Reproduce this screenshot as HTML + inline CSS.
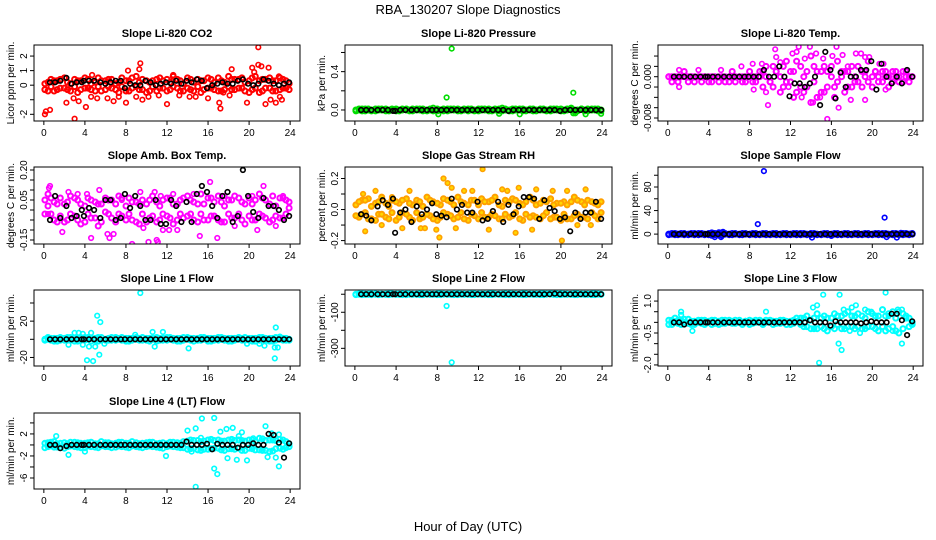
<!DOCTYPE html>
<html><head><meta charset="utf-8"><style>
html,body{margin:0;padding:0;background:#fff;}
svg{display:block;font-family:"Liberation Sans",Arial,sans-serif;}
</style></head><body>
<svg id="fig" width="936" height="540" viewBox="0 0 936 540" xmlns="http://www.w3.org/2000/svg">
<rect width="936" height="540" fill="#fff"/>
<text x="468" y="14" font-size="13" text-anchor="middle">RBA_130207  Slope Diagnostics</text>
<text x="468" y="531" font-size="13" text-anchor="middle">Hour of Day (UTC)</text>
</svg>
<script>
const xTicks=[0,4,8,12,16,20,24];
const xTickLabels=["0","4","8","12","16","20","24"];
const bandHours=[0.1,0.4,0.7,1,1.3,1.6,2,2.3,2.6,3,3.3,3.6,4,4.3,4.6,5,5.3,5.6,6,6.3,6.6,7,7.3,7.6,8,8.3,8.6,9,9.3,9.6,10,10.3,10.6,11,11.3,11.6,12,12.3,12.6,13,13.3,13.6,14,14.3,14.6,15,15.3,15.6,16,16.3,16.6,17,17.3,17.6,18,18.3,18.6,19,19.3,19.6,20,20.3,20.6,21,21.3,21.6,22,22.3,22.6,23,23.3,23.6,23.9];
const blackHours=[0.6,1.1,1.6,2.2,2.7,3.2,3.7,3.9,4.4,4.9,5.5,6,6.5,7,7.5,7.9,8.4,8.9,9.4,9.9,10.4,10.9,11.4,11.9,12.4,12.9,13.4,13.9,14.4,14.9,15.4,15.9,16.4,16.9,17.4,17.9,18.4,18.9,19.4,19.9,20.4,20.9,21.4,21.9,22.4,22.9,23.4,23.9];

// Panel 1: CO2
const co2BandA=[-.3,.2,.4,-.4,.3,-.2,.5,-.3,.1,.4,-.5,.3,-.2,.4,-.3,.2,.5,-.4,.3,-.1,.4,-.3,.2,.5,-.4,.3,-.2,.6,-.3,.4,-.5,.2,.3,-.4,.5,-.2,.4,-.3,.6,-.2,.3,-.4,.5,-.3,.2,.4,-.5,.3,-.2,.4,-.3,.5,-.4,.2,.6,-.3,.4,-.2,.5,-.4,.3,-.3,.6,-.5,.4,-.2,.5,-.4,.3,-.3,.4,-.2,.1];
const co2BandB=[.1,-.4,-.1,.3,-.3,.4,-.2,.2,-.4,-.1,.3,-.3,.5,-.2,.1,-.4,-.1,.3,-.3,.4,-.2,.1,-.5,-.1,.3,-.4,.5,-.1,.2,-.3,.3,-.4,-.1,.4,-.2,.3,-.4,.2,-.1,.4,-.4,.1,-.2,.4,-.4,-.1,.3,-.3,.5,-.2,.2,-.4,.3,-.3,-.1,.4,-.3,.4,-.2,.2,-.5,.5,-.2,.3,-.4,.4,-.2,.3,-.4,.5,-.2,.3,-.3];
const co2Outliers=[[0.1,-2],[0.2,-1.8],[0.6,-1.7],[2.2,-1.2],[2.9,-0.9],[3.0,-2.3],[3.4,-1.1],[4.1,-1.5],[4.7,0.7],[4.6,-0.8],[5.2,-0.9],[6.2,-0.9],[6.8,-1.1],[7.3,-0.8],[8.2,1],[8,-1.2],[9.3,1.1],[9.4,1.5],[9,-0.8],[9.6,-1],[10.2,-0.8],[11.2,-0.7],[12,-1.3],[12.6,0.7],[13.2,-0.7],[14.2,-0.8],[14.8,-0.8],[16,-0.9],[17.2,-1.6],[17.1,-1.2],[17.5,-0.5],[18.3,1.1],[18.1,-0.7],[19.8,-1.2],[20.3,1.2],[20.5,0.9],[20.9,2.6],[20.9,1.4],[21.2,1.3],[21.6,-1.3],[21.9,1.2],[22.1,-1],[22.6,-1.2],[22.9,0.6],[23,-0.8],[23.2,-1]];
const co2Black=[.2,.2,.3,.5,.1,.2,.2,.3,.3,.3,.2,.1,.2,.3,.3,-.2,.1,0,0,.3,.2,0,.1,.2,.1,.3,.1,.3,.2,.4,.3,-.2,0,.1,.2,.1,.1,.3,.4,.1,0,.1,.4,.3,.1,0,.1,.2];

// Panel 2: Pressure
const presBandA=[0,.01,-.01,.01,0,-.01,.01,0,.01,-.01,0,.01,-.01,0,.01,0,-.01,.01,0,.01,-.01,0,.01,.02,-.01,0,.01,-.01,.01,0,.01,-.01,0,.01,0,-.01,.01,0,.01,-.01,0,.01,-.01,.02,0,-.01,.01,0,.01,-.01,0,.01,-.01,0,.01,0,-.01,.01,0,.01,-.01,0,.01,.02,-.01,0,.01,-.01,.01,0,.01,-.01,0];
const presBandB=[-.01,0,.01,-.01,.01,0,-.01,.01,0,.01,-.01,0,.01,-.01,0,.01,0,-.01,.01,0,.01,-.01,0,-.01,.01,0,-.01,.01,0,.01,-.01,0,.01,-.01,.01,0,-.01,.01,0,.01,-.01,0,.01,-.01,.01,0,-.01,.01,0,.01,-.01,0,.01,-.01,0,.01,0,-.01,.01,0,.01,-.01,0,.01,0,-.01,.01,0,-.01,.01,0,.01,-.01];
const presOutliers=[[8.9,0.13],[9.4,0.64],[8.1,-0.045],[14,-0.04],[16,-0.045],[21.2,0.18],[21.2,-0.035],[21.4,-0.035],[22.4,-0.045],[23.9,-0.04],[0.1,0]];
const presBlack=[0,0,0,0,0,0,-.01,-.01,0,0,0,0,0,0,0,0,0,0,0,0,0,0,0,0,0,0,0,0,0,-.01,0,0,0,0,0,0,0,0,0,-.01,0,0,0,0,0,0,0,0];

// Panel 3: Li-820 Temp
const tempBandA=[0,0,0,0,0,0,0,0,0,0,0,0,0,0,0,0,0,0,0,0,0,0,0,0,0,0,0,0,.001,0,-.001,.002,.001,0,-.002,.003,-.001,.001,-.003,.002,0,-.002,.004,-.001,.001,-.003,.002,.001,0,-.002,.003,0,.001,-.002,.002,0,-.001,.001,0,.003,0,.001,0,.001,0,0,.001,0,0,.001,0,0,0];
const tempBandB=[0,-.001,0,-.001,0,.001,-.001,0,-.001,0,-.001,0,-.001,-.001,0,-.001,0,-.001,-.001,.001,-.001,0,-.001,-.001,.001,-.001,-.001,.001,-.002,.002,-.001,-.002,.001,-.003,.002,-.001,.001,-.004,.003,-.002,-.003,.001,-.005,.002,-.004,.001,-.003,-.002,.002,-.004,-.001,.001,-.003,.001,-.002,-.001,.002,-.002,.001,-.001,-.002,.001,-.001,-.001,.001,-.002,-.001,.001,-.001,-.001,.001,-.001,0];
const tempOutliers=[[1.1,.0013],[1.1,-.002],[3,.0013],[5.2,.0013],[7.2,.002],[8.3,.0025],[8.4,-.0025],[9.2,.0025],[9.6,-.003],[9.8,-.0055],[10.6,.0038],[10.5,.0053],[11,.0028],[11.8,-.002],[12.2,.0045],[12.6,.0048],[12.8,.0058],[13.1,-.004],[13.4,.0035],[13.9,.0058],[14.2,-.005],[14.5,.0045],[14.9,-.004],[15.2,.0035],[15.6,-.0082],[16.1,.004],[16.5,.0058],[16.7,-.006],[17.1,.0042],[17.6,.002],[17.9,-.0045],[18.4,.0045],[18.9,.0045],[19.3,.0038],[19.7,.0038],[19.3,-.0045],[20.7,.0025],[21.1,.0025],[21.3,-.0025]];
const tempBlack=[0,0,0,0,0,0,0,0,0,0,0,0,0,0,0,0,0,0,.0013,0,0,.002,0,-.0038,-.0013,-.0013,-.002,-.0013,0,-.0055,.0048,.0013,-.0042,.0008,-.002,0,0,.0013,.0013,.003,-.0025,.0025,0,-.0013,0,-.0013,.0013,0];

// Panel 4: Amb box temp
const ambBandA=[.05,.08,-.02,.04,-.06,.06,.03,-.05,.07,-.03,.05,-.07,.02,.06,-.04,.04,-.08,.03,.06,-.02,.05,-.06,.07,-.03,.02,.06,-.05,.04,-.07,.05,.03,-.04,.07,-.06,.02,.05,-.03,.06,-.07,.03,.05,-.04,.07,-.02,.04,-.06,.08,.03,-.05,.06,-.03,.07,-.06,.02,.05,-.04,.07,-.02,.04,-.07,.06,.03,-.05,.08,-.03,.05,-.06,.07,.02,-.04,.06,-.02,.04];
const ambBandB=[-.02,.02,.06,-.05,.03,-.03,-.06,.04,-.02,.06,-.05,.03,-.06,-.02,.05,-.04,.03,-.06,-.01,.05,-.04,.03,-.02,.06,-.05,-.02,.04,-.06,.03,-.02,-.06,.05,-.03,.04,-.05,-.02,.06,-.04,.03,-.05,-.02,.06,-.03,.05,-.05,.03,-.02,-.05,.06,-.03,.04,-.05,.04,-.06,-.02,.05,-.04,.06,-.05,.03,-.03,-.05,.05,-.02,.06,-.04,.03,-.05,-.03,.06,-.04,.05,.01];
const ambOutliers=[[0.5,.11],[0.6,.12],[0.4,-.02],[1.8,-.11],[2.4,.09],[3.3,.08],[4.2,.08],[4.6,-.14],[5.4,.1],[6.2,-.12],[6.4,-.14],[6.8,-.12],[7.6,.05],[8.6,-.17],[9.4,.09],[9.7,-.09],[10.2,-.16],[10.8,.09],[11,-.15],[11.1,-.16],[11.4,.07],[11.6,-.1],[12.2,-.1],[12.6,.08],[13,-.1],[14.6,.08],[15.2,-.13],[16.2,.14],[16.9,-.14],[17.6,.07],[18.6,-.08],[20.3,.07],[20.8,-.1],[21.4,.12],[22.6,-.08],[23.3,.07]];
const ambBlack=[-.05,.07,-.04,.02,-.04,-.03,0,-.03,.01,0,-.04,.05,.05,-.05,-.04,.08,.01,.07,.02,-.05,-.05,.05,-.07,-.07,.05,.02,-.06,.04,-.06,.08,.12,.09,.02,-.04,.07,.09,-.06,-.03,.2,.07,-.01,-.04,.06,.02,.02,.0,-.05,-.03];

// Panel 5: Gas stream RH
const rhBandA=[.03,-.05,.06,-.02,.07,-.06,.04,-.03,.08,-.05,.02,.06,-.07,.04,-.02,.07,-.05,.03,.06,-.06,.02,.08,-.04,.05,-.07,.03,.07,-.03,.05,-.06,.08,-.02,.04,-.07,.06,-.04,.03,.07,-.05,.05,-.03,.08,-.06,.02,.06,-.05,.07,-.02,.04,-.07,.05,.08,-.04,.03,-.06,.06,-.02,.07,-.05,.04,-.07,.05,.03,-.06,.08,-.03,.05,-.05,.06,-.02,.04,-.06,.05];
const rhBandB=[-.04,.05,-.03,.06,-.06,.02,-.07,.05,-.03,.04,-.06,-.02,.05,-.05,.06,-.03,.04,-.07,-.02,.05,-.05,-.03,.06,-.06,.04,-.05,-.02,.06,-.04,.03,-.05,.05,-.06,.03,-.03,.06,-.06,-.02,.05,-.05,.06,-.04,.03,-.06,-.03,.05,-.04,.06,-.06,.03,-.03,-.05,.06,-.05,.04,-.04,.05,-.06,.03,-.05,.04,-.03,-.06,.05,-.04,.06,-.05,.03,-.06,.05,-.04,.03,-.02];
const rhOutliers=[[0.8,.1],[1,-.14],[2,.12],[2.6,-.1],[3.6,.08],[4.6,-.12],[5.3,.12],[6.4,-.12],[6.8,-.12],[7.9,-.13],[8.2,-.18],[8.6,.2],[9,.17],[9.4,.14],[9.8,-.12],[10.6,.12],[11.4,.12],[12.4,.26],[13,-.13],[14.3,.13],[14.8,.12],[15.6,-.15],[15.9,.14],[17.2,-.13],[17.6,.13],[19.2,.12],[20.1,-.2],[20.6,.12],[21.6,-.1],[22.4,.13],[22.9,-.1]];
const rhBlack=[-.03,-.04,-.07,.02,.06,.03,.07,-.15,-.02,.0,-.08,.02,-.03,.0,.04,-.03,-.04,-.05,.07,.0,.03,-.02,-.02,.05,-.07,-.06,-.01,.05,-.08,.03,-.03,.02,.08,.08,.07,-.06,.06,.01,-.01,-.06,-.05,-.14,-.02,-.06,-.02,-.02,.05,-.06];

// Panel 6: Sample flow
const sfBandA=[0,1,-1,0,1,-1,0,1,-1,1,0,-1,1,2,-1,2,-2,1,0,-1,1,0,-1,1,0,1,-1,0,1,-1,0,1,-1,0,1,-1,0,1,-1,1,0,-1,1,0,-1,0,1,-1,0,1,-1,0,1,-1,0,1,-1,0,1,-1,0,1,-1,1,0,-1,1,0,-1,1,0,-1,0];
const sfBandB=[-1,0,1,-1,0,1,-1,0,1,-1,1,0,-1,-2,1,-1,2,0,-1,1,0,-1,1,0,-1,0,1,-1,0,1,-1,0,1,-1,0,1,-1,0,1,-1,1,0,-1,1,0,-1,0,1,-1,0,1,-1,0,1,-1,0,1,-1,0,1,-1,0,1,-1,1,0,-1,1,0,-1,1,0,1];
const sfOutliers=[[9.4,107],[8.8,17],[21.2,28],[4.6,-5],[5,3],[5.2,-5],[5.4,4],[14.1,-6],[16,-3],[22.4,-6],[21.4,-5],[22.8,2]];
const sfBlack=[0,0,0,0,0,0,0,0,0,0,0,0,0,0,0,0,0,0,0,0,0,0,0,0,0,0,0,0,0,0,0,0,0,0,0,0,0,0,0,0,0,0,0,0,0,0,0,0];

// Panel 7: Line 1 flow
const l1BandA=[0,2,-1,1,-2,2,1,-1,2,-2,1,-1,2,0,-2,1,2,-1,0,1,-1,2,0,-1,1,-2,1,0,-1,2,-1,1,0,-2,1,-1,2,0,-1,1,-2,2,0,-1,1,-1,2,0,-2,1,-1,2,0,-1,1,-2,1,0,-1,2,-1,1,-2,2,0,-1,1,-2,2,0,-1,1,0];
const l1BandB=[-1,0,1,-2,1,-1,-1,2,-1,1,-2,2,-1,2,1,-1,-2,2,-1,-1,2,-1,1,2,-2,1,-1,2,1,-1,1,-2,1,2,-1,1,-1,2,1,-2,1,-1,2,1,-2,1,-1,2,1,-2,1,-1,2,1,-2,1,-1,2,1,-1,1,-2,1,-1,2,1,-2,1,-1,2,1,-1,-1];
const l1Outliers=[[9.4,51],[5.2,26],[5.5,19],[4.2,-23],[4.8,-24],[5.4,-17],[3,7],[3.4,7],[3.8,6],[4.6,7],[2.4,-6],[3.8,-6],[4.4,-8],[5,-8],[5.9,-5],[8.9,5],[10.6,8],[10.8,-8],[11.6,8],[14.1,-10],[22.6,13],[22.5,-21],[22.5,-9],[22.8,-9],[23,3],[21.5,-7],[19.8,-5],[21,-5]];
const l1Black=[0,0,0,0,0,0,0,0,0,0,0,0,0,0,0,0,0,0,0,0,0,0,0,0,0,0,0,0,0,0,0,0,0,0,0,0,0,0,0,0,0,0,0,0,0,0,0,0];

// Panel 8: Line 2 flow
const l2BandA=[0,2,-2,1,-1,2,0,-2,1,-1,2,0,-1,1,-2,2,0,-1,1,-2,2,0,-1,1,-2,2,0,-1,1,-2,2,0,-1,1,-2,2,0,-1,1,-2,4,0,-1,1,-2,2,0,-1,1,-2,2,0,-1,1,-2,2,0,4,1,-2,2,0,-1,1,-2,2,0,-1,1,-2,2,0,-1];
const l2BandB=[-2,0,2,-1,1,-2,2,0,-1,1,-2,2,1,-1,2,-2,1,1,-1,2,-2,1,1,-1,2,-2,1,1,-1,2,-2,1,1,-1,2,-2,1,1,-1,2,-2,1,1,-1,2,-2,1,1,-1,2,-2,1,1,-1,2,-2,1,1,-1,2,-2,1,1,-1,2,-2,1,1,-1,2,-2,1,0];
const l2Outliers=[[8.9,-65],[9.4,-378]];
const l2Black=[0,0,0,0,0,0,0,0,0,0,0,0,0,0,0,0,0,0,0,0,0,0,0,0,0,0,0,0,0,0,0,0,0,0,0,0,0,0,3,0,0,0,0,0,0,0,0,0];

// Panel 9: Line 3 flow
const l3BandA=[-.1,.1,.2,-.05,.1,0,.15,-.1,.05,.1,-.05,.1,0,-.1,.1,.05,-.05,.1,0,.05,-.05,.1,0,.05,-.1,.05,.1,0,-.05,.1,0,.05,-.05,.1,0,.05,-.1,.1,.05,.2,-.2,.3,.1,-.3,.4,-.2,.3,-.4,.2,.4,-.1,.3,-.3,.5,-.2,.3,.4,-.3,.2,.5,-.2,.3,-.4,.6,.3,-.3,.5,.2,-.5,.4,.2,-.2,-.1];
const l3BandB=[.1,-.1,0,.1,-.1,.15,-.05,.05,-.1,0,.1,-.1,.05,.1,-.05,-.1,.1,-.05,.1,-.05,.1,0,-.1,.05,.1,-.05,0,.1,-.1,0,.1,-.1,.05,-.05,.1,-.1,.05,-.05,.2,-.1,.2,-.2,-.3,.2,-.3,.2,-.3,.2,-.2,-.3,.3,-.3,.4,-.2,.3,-.3,-.2,.3,-.3,-.2,.4,-.3,.3,-.2,-.4,.4,-.2,-.4,.5,-.3,.3,.2,0];
const l3Outliers=[[1.3,.5],[1.3,.35],[2.4,-.4],[9.6,.5],[14.2,.7],[14.6,.8],[14.8,-1.9],[15.2,1.3],[16.8,1.3],[16.7,-1],[17,-1.3],[17.2,.6],[18,.7],[18.4,.8],[17.8,-.4],[18.8,-.5],[19.3,.6],[21.3,1.4],[22,-.4],[22.5,.6],[22.9,.6],[22.9,-1],[21.6,.3],[19.9,.5]];
const l3Black=[0,0,-.1,0,0,0,0,0,0,0,0,0,0,0,0,0,0,0,0,0,0,0,0,0,0,0,0,.1,0,0,0,-.15,.05,0,0,0,0,-.05,0,.05,0,0,0,.4,.4,.1,-.6,.05];

// Panel 10: Line 4 (LT) flow
const l4BandA=[-.5,.4,-.2,.6,-.4,.3,-.6,.2,.5,-.3,.4,-.5,.3,-.2,.5,-.4,.2,.6,-.3,.4,-.5,.3,-.2,.5,-.4,.3,.6,-.3,.2,-.5,.4,-.2,.5,-.4,.3,-.6,.2,.5,-.3,.4,-.5,.6,-.8,.9,-.6,.8,-1,.7,-.8,1,-.6,.9,-.9,.7,-.7,1,-.8,.9,-1,.7,-.6,.9,-.9,1.2,-1,.8,-1.2,.9,-.7,1,-.8,.6,-.3];
const l4BandB=[.3,-.3,.5,-.4,.2,-.5,.4,-.3,-.2,.5,-.4,.3,-.5,.4,-.3,.2,-.5,-.2,.4,-.3,.2,-.4,.5,-.3,.3,-.5,-.2,.4,-.4,.3,-.3,.5,-.3,.2,-.5,.4,-.3,-.2,.5,-.4,.3,-.5,.7,-.7,.8,-.9,.6,-.8,.9,-.7,.8,-.6,.7,-1,.9,-.7,.8,-.6,.8,-1,.9,-.7,.6,-.9,1.1,-1,.9,-1.1,.8,-.6,.9,-.5,.2];
const l4Outliers=[[1.2,1.6],[2.4,-1.8],[4,-1.2],[11.9,-2],[14,2.6],[14.8,3],[14.8,-7.6],[15.4,4.8],[16.6,4.9],[16.6,-4.3],[16.9,-5.3],[17.2,2.4],[17.8,2.9],[18.4,3.1],[17.9,-2.4],[18.8,-2.7],[19.3,2.3],[19.8,-2.8],[20.4,1.2],[21.6,3.4],[21.8,-2.2],[22.2,2.1],[22.9,1.9],[22.9,-3.9],[22.6,-2.3],[19,1.6],[15.3,1.3],[14.4,-1.2]];
const l4Black=[0,0,-.6,-.2,0,0,0,0,0,0,0,0,0,0,0,0,0,0,0,0,0,0,0,0,0,0,0,.6,0,0,0,.2,-.8,.2,0,0,0,-.5,0,0,.3,0,0,2,1.8,.4,-2.3,.3];

const NS="http://www.w3.org/2000/svg";
const svg=document.getElementById('fig');
function mk(tag,attrs,parent){const e=document.createElementNS(NS,tag);for(const k in attrs)e.setAttribute(k,attrs[k]);(parent||svg).appendChild(e);return e;}

const panels=[
 {id:'co2',title:'Slope Li-820 CO2',ylab:'Licor ppm per min.',x0:34,x1:300,y0:45,y1:121,ymin:-2.46,ymax:2.76,yt:[2,1,0,-1,-2],ytl:['2','1','0','','-2'],col:'#ff0000',fill:'none',a:co2BandA,b:co2BandB,out:co2Outliers,blk:co2Black},
 {id:'pressure',title:'Slope Li-820 Pressure',ylab:'kPa per min.',x0:345,x1:612,y0:45,y1:121,ymin:-0.115,ymax:0.678,yt:[0.6,0.4,0.2,0],ytl:['','0.4','','0.0'],col:'#00dd00',fill:'none',a:presBandA,b:presBandB,out:presOutliers,blk:presBlack},
 {id:'li820-temp',title:'Slope Li-820 Temp.',ylab:'degrees C per min.',x0:658,x1:923,y0:45,y1:121,ymin:-0.00858,ymax:0.00614,yt:[0.004,0.002,0,-0.002,-0.004,-0.006,-0.008],ytl:['','','0.000','','','','-0.008'],col:'#ff00ff',fill:'none',a:tempBandA,b:tempBandB,out:tempOutliers,blk:tempBlack},
 {id:'amb-box-temp',title:'Slope Amb. Box Temp.',ylab:'degrees C per min.',x0:34,x1:300,y0:167,y1:244,ymin:-0.17,ymax:0.215,yt:[0.2,0.15,0.1,0.05,0,-0.05,-0.1,-0.15],ytl:['0.20','','','0.05','','','','-0.15'],col:'#ff00ff',fill:'none',a:ambBandA,b:ambBandB,out:ambOutliers,blk:ambBlack},
 {id:'gas-stream-rh',title:'Slope Gas Stream RH',ylab:'percent per min.',x0:345,x1:612,y0:167,y1:244,ymin:-0.222,ymax:0.274,yt:[0.2,0.1,0,-0.1,-0.2],ytl:['0.2','','0.0','','-0.2'],col:'#ffa000',fill:'#ffd800',a:rhBandA,b:rhBandB,out:rhOutliers,blk:rhBlack},
 {id:'sample-flow',title:'Slope Sample Flow',ylab:'ml/min per min.',x0:658,x1:923,y0:167,y1:244,ymin:-16.8,ymax:114,yt:[100,80,60,40,20,0],ytl:['','80','','40','','0'],col:'#0000ff',fill:'none',a:sfBandA,b:sfBandB,out:sfOutliers,blk:sfBlack},
 {id:'line1-flow',title:'Slope Line 1 Flow',ylab:'ml/min per min.',x0:34,x1:300,y0:290,y1:366,ymin:-29.4,ymax:54.3,yt:[40,20,0,-20],ytl:['','20','','-20'],col:'#00ffff',fill:'none',a:l1BandA,b:l1BandB,out:l1Outliers,blk:l1Black},
 {id:'line2-flow',title:'Slope Line 2 Flow',ylab:'ml/min per min.',x0:345,x1:612,y0:290,y1:366,ymin:-398,ymax:23.5,yt:[0,-100,-200,-300],ytl:['','-100','','-300'],col:'#00ffff',fill:'none',a:l2BandA,b:l2BandB,out:l2Outliers,blk:l2Black},
 {id:'line3-flow',title:'Slope Line 3 Flow',ylab:'ml/min per min.',x0:658,x1:923,y0:290,y1:366,ymin:-2.05,ymax:1.52,yt:[1,0.5,0,-0.5,-1,-1.5,-2],ytl:['1.0','','','-0.5','','','-2.0'],col:'#00ffff',fill:'none',a:l3BandA,b:l3BandB,out:l3Outliers,blk:l3Black},
 {id:'line4-flow',title:'Slope Line 4 (LT) Flow',ylab:'ml/min per min.',x0:34,x1:300,y0:413,y1:489,ymin:-8,ymax:5.8,yt:[4,2,0,-2,-4,-6],ytl:['','2','','-2','','-6'],col:'#00ffff',fill:'none',a:l4BandA,b:l4BandB,out:l4Outliers,blk:l4Black}
];

panels.forEach(p=>{
  const g=mk('g',{});
  
  
  const sx=h=>p.x0+(h+0.96)/25.92*(p.x1-p.x0);
  const sy=v=>p.y1-(v-p.ymin)/(p.ymax-p.ymin)*(p.y1-p.y0);
  const clip=mk('clipPath',{id:'clip-'+p.id},g);
  mk('rect',{x:p.x0,y:p.y0,width:p.x1-p.x0,height:p.y1-p.y0},clip);
  const pts=mk('g',{'clip-path':'url(#clip-'+p.id+')'},g);
  
  
  const dot=(h,v,stroke,fill,sw,r)=>{const c=mk('circle',{cx:sx(h).toFixed(1),cy:sy(v).toFixed(1),r:r,fill:fill,stroke:stroke,'stroke-width':sw},pts);
    
    };
  [p.a,p.b].forEach(arr=>{const n=Math.min(arr.length,bandHours.length);for(let i=0;i<n;i++)dot(bandHours[i],arr[i],p.col,p.fill,2,2.5);});
  p.out.forEach(o=>dot(o[0],o[1],p.col,p.fill,1.6,2.3));
  const nb=Math.min(p.blk.length,blackHours.length);
  for(let i=0;i<nb;i++)dot(blackHours[i],p.blk[i],'#000','none',1.6,2.3);
  const box=mk('rect',{x:p.x0,y:p.y0,width:p.x1-p.x0,height:p.y1-p.y0,fill:'none',stroke:'#000','stroke-width':1},g);
  
  
  const t=mk('text',{x:(p.x0+p.x1)/2,y:p.y0-8,'font-size':11,'font-weight':'bold','text-anchor':'middle'},g);
  t.textContent=p.title;
  
  
  const yl=mk('text',{transform:'translate('+(p.x0-20)+','+((p.y0+p.y1)/2)+') rotate(-90)','font-size':10,'text-anchor':'middle'},g);
  yl.textContent=p.ylab;
  
  
  xTicks.forEach((v,i)=>{const x=sx(v);
    mk('line',{x1:x,x2:x,y1:p.y1,y2:p.y1+4,stroke:'#000'},g);
    const tl=mk('text',{x:x,y:p.y1+15,'font-size':10,'text-anchor':'middle'},g);
    tl.textContent=xTickLabels[i];
    
    });
  p.yt.forEach((v,i)=>{const y=sy(v);
    mk('line',{x1:p.x0-4,x2:p.x0,y1:y,y2:y,stroke:'#000'},g);
    if(p.ytl[i]){const tl=mk('text',{transform:'translate('+(p.x0-7)+','+y+') rotate(-90)','font-size':10,'text-anchor':'middle'},g);
      tl.textContent=p.ytl[i];
      
      }});
});
</script>
</body></html>
